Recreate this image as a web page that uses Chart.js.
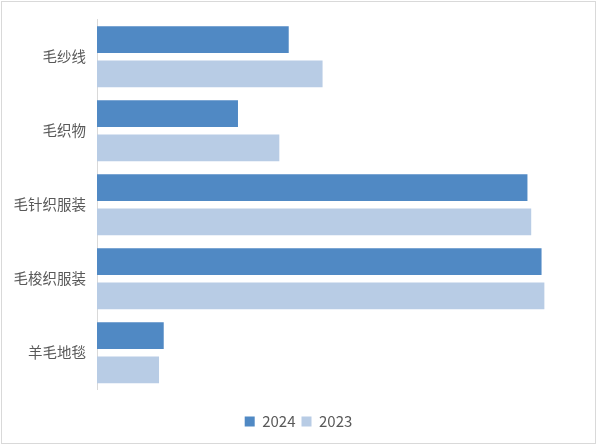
<!DOCTYPE html>
<html>
<head>
<meta charset="utf-8">
<script src="https://cdn.jsdelivr.net/npm/chart.js@4.4.1/dist/chart.umd.min.js"></script>
<style>
  html, body { margin: 0; padding: 0; background: #fff; }
  #frame { position: absolute; left: 1px; top: 1px; width: 593px; height: 441px; border: 1px solid #d9d9d9; }
  #wrap { position: absolute; left: 0; top: 0; width: 597px; height: 446px; }
</style>
</head>
<body>
<div id="frame"></div>
<div id="wrap"><canvas id="barChart"></canvas></div>
<script>
'use strict'
const categories = ['毛纱线', '毛织物', '毛针织服装', '毛梭织服装', '羊毛地毯'];
const values2024 = [20.4, 15.0, 45.8, 47.3, 7.1];
const values2023 = [24.0, 19.4, 46.2, 47.6, 6.6];
const seriesNames = ['2024', '2023'];

const ctx = document.getElementById('barChart').getContext('2d');
Chart.defaults.font.family = '"Noto Sans CJK SC", "Liberation Sans", sans-serif';
Chart.defaults.color = '#595959';

new Chart(ctx, {
  type: 'bar',
  data: {
    labels: categories,
    datasets: [{
      label: seriesNames[0],
      data: values2024,
      backgroundColor: '#5089C4',
      borderWidth: 0,
    }, {
      label: seriesNames[1],
      data: values2023,
      backgroundColor: '#B8CCE5',
      borderWidth: 0,
    }],
  },
  options: {
    indexAxis: 'y',
    responsive: true,
    maintainAspectRatio: false,
    animation: false,
    categoryPercentage: 0.924,
    barPercentage: 0.78,
    layout: {
      padding: { left: 0, right: 0, top: 19, bottom: 7 },
    },
    scales: {
      x: {
        display: false,
        min: 0,
        max: 53.2,
      },
      y: {
        grid: { color: 'rgba(0,0,0,0)', drawTicks: false },
        border: { display: true, color: '#d9d9d9', width: 1 },
        ticks: { padding: 11, font: { size: 14.5 }, color: '#595959' },
        afterFit: function (scale) {
          scale.width = 97;
        },
      },
    },
    plugins: {
      legend: {
        position: 'bottom',
        title: {
          display: true,
          text: ' ',
          font: { size: 1 },
          padding: { top: 17, bottom: 0 },
        },
        labels: {
          boxWidth: 10,
          boxHeight: 10,
          padding: 6,
          font: { size: 15 },
          color: '#595959',
        },
      },
      tooltip: { enabled: false },
    },
  },
});
</script>
</body>
</html>
